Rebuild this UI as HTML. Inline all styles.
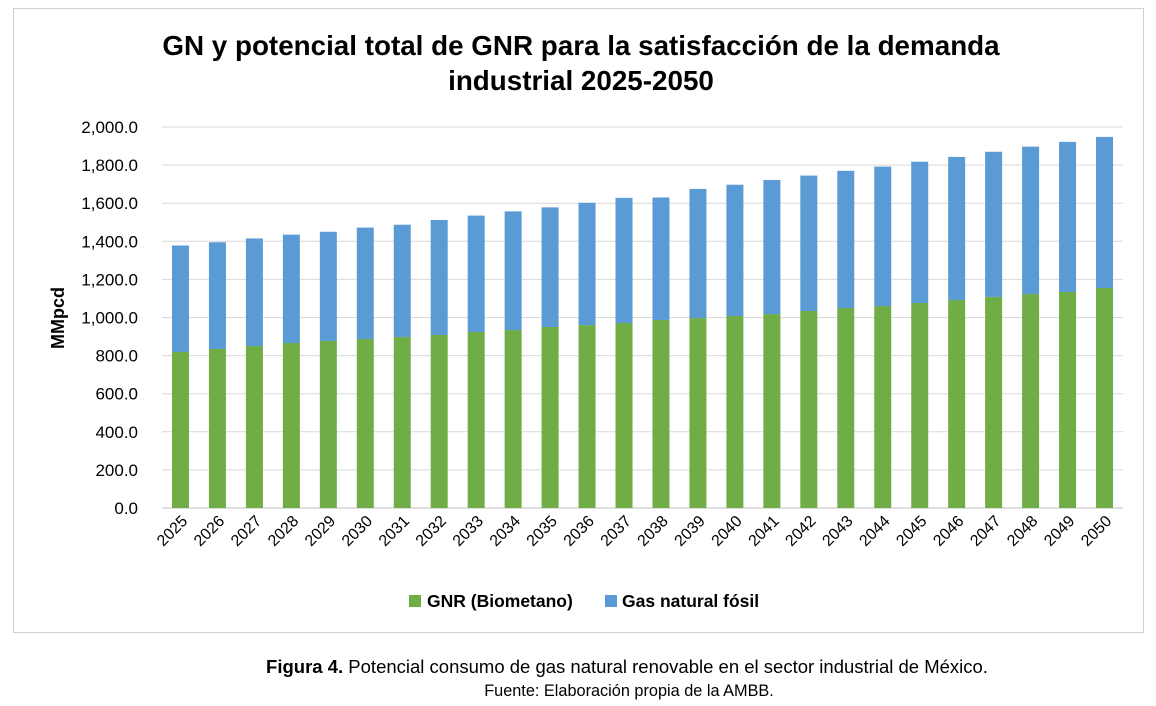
<!DOCTYPE html>
<html><head><meta charset="utf-8"><style>
body{margin:0;background:#fff;width:1156px;height:706px;overflow:hidden;font-family:"Liberation Sans",sans-serif}
#frame{position:absolute;left:13px;top:8px;width:1131px;height:625px;border:1px solid #d0d0d0;box-sizing:border-box}
</style></head><body>
<div id="frame"></div>
<svg id="chart" width="1156" height="706" style="position:absolute;left:0;top:0">
<text x="581" y="55" text-anchor="middle" font-size="27.8" font-weight="bold" fill="#000">GN y potencial  total de GNR para la satisfacción de la demanda</text>
<text x="581" y="90" text-anchor="middle" font-size="27.8" font-weight="bold" fill="#000">industrial 2025-2050</text>
<text transform="translate(64,318) rotate(-90)" text-anchor="middle" font-size="18" font-weight="bold">MMpcd</text>
<g id="grid"></g><g id="bars"></g><g id="xlabels"></g>
<rect x="409" y="595" width="12" height="12" fill="#70ad47"/>
<text x="427" y="607" font-size="17.5" font-weight="bold">GNR (Biometano)</text>
<rect x="605" y="595" width="12" height="12" fill="#5b9bd5"/>
<text x="622" y="607" font-size="17.5" font-weight="bold">Gas natural fósil</text>
<text x="627" y="673" text-anchor="middle" font-size="18.5"><tspan font-weight="bold">Figura 4.</tspan> Potencial consumo de gas natural renovable en el sector industrial de México.</text>
<text x="629" y="696" text-anchor="middle" font-size="16.3">Fuente: Elaboración propia de la AMBB.</text>
</svg>
<script>
const years=[2025,2026,2027,2028,2029,2030,2031,2032,2033,2034,2035,2036,2037,2038,2039,2040,2041,2042,2043,2044,2045,2046,2047,2048,2049,2050];
const gnr=[819,835,850,866,877,887,898,908,924,934,950,960,971,987,997,1008,1018,1034,1050,1060,1076,1092,1108,1123,1134,1155];
const fossil=[559,560,565,569,573,585,589,604,611,623,628,642,657,643,678,689,704,711,720,732,742,751,762,774,788,793];
const yTicks=[0,200,400,600,800,1000,1200,1400,1600,1800,2000];
const NS="http://www.w3.org/2000/svg";
const x0=162,x1=1123,yb=508,yt=127,ymax=2000;
const y=v=>yb-(v/ymax)*(yb-yt);
const step=(x1-x0)/years.length;
const xc=i=>x0+step*(i+0.5);
const bw=17;
const grid=document.getElementById('grid'),bars=document.getElementById('bars'),xl=document.getElementById('xlabels');
function mk(t,a,p){const e=document.createElementNS(NS,t);for(const k in a)e.setAttribute(k,a[k]);p.appendChild(e);return e;}
yTicks.forEach(v=>{
 const l=mk('line',{x1:x0,x2:x1,y1:y(v),y2:y(v),stroke:v===0?'#bfbfbf':'#d9d9d9','stroke-width':1},grid);
 
 
 const t=mk('text',{x:138,y:y(v)+6,'text-anchor':'end','font-size':17},grid);
 t.textContent=v.toLocaleString('en-US',{minimumFractionDigits:1,maximumFractionDigits:1});
 
 
});
years.forEach((yr,i)=>{
 const g=mk('rect',{x:xc(i)-bw/2,y:y(gnr[i]),width:bw,height:yb-y(gnr[i]),fill:'#70ad47'},bars);
 
 
 const f=mk('rect',{x:xc(i)-bw/2,y:y(gnr[i]+fossil[i]),width:bw,height:y(gnr[i])-y(gnr[i]+fossil[i]),fill:'#5b9bd5'},bars);
 
 
 const t=mk('text',{x:xc(i)+8,y:522,'text-anchor':'end','font-size':16,transform:`rotate(-45 ${xc(i)+8} 522)`},xl);
 t.textContent=yr;
 
 
});
</script>
</body></html>
